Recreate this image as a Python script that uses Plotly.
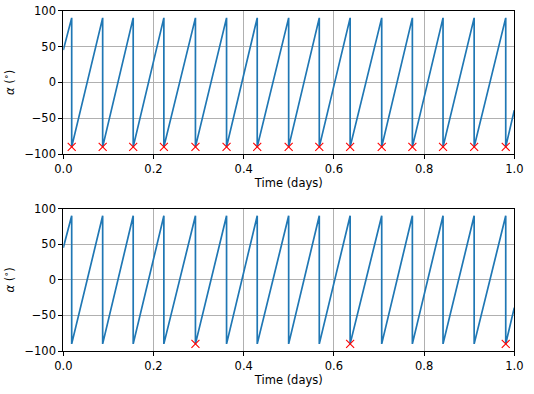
import plotly.graph_objects as go

# Data
drop_times = [0.0186, 0.0873, 0.155, 0.223, 0.293, 0.362, 0.430, 0.4997,
              0.5676, 0.636, 0.706, 0.774, 0.842, 0.911, 0.981]
peak_angle = 90
trough_angle = -90
start_time, start_angle = 0.0, 45
end_time, end_angle = 1.0, -39
marker_idx_top = list(range(15))
marker_idx_bottom = [4, 9, 14]

# Build sawtooth vertices from the data
xs = [start_time]
ys = [start_angle]
for t in drop_times:
    xs += [t, t]
    ys += [peak_angle, trough_angle]
xs.append(end_time)
ys.append(end_angle)

W, H = 534, 394
fig = go.Figure()
line_style = dict(color="#1f77b4", width=1.7)
mk = dict(symbol="x-thin", size=8, line=dict(color="red", width=1.1), color="red")

fig.add_trace(go.Scatter(x=xs, y=ys, mode="lines", line=line_style, xaxis="x", yaxis="y", showlegend=False))
fig.add_trace(go.Scatter(x=[drop_times[i] for i in marker_idx_top], y=[trough_angle]*len(marker_idx_top),
                         mode="markers", marker=mk, xaxis="x", yaxis="y", showlegend=False))
fig.add_trace(go.Scatter(x=xs, y=ys, mode="lines", line=line_style, xaxis="x2", yaxis="y2", showlegend=False))
fig.add_trace(go.Scatter(x=[drop_times[i] for i in marker_idx_bottom], y=[trough_angle]*len(marker_idx_bottom),
                         mode="markers", marker=mk, xaxis="x2", yaxis="y2", showlegend=False))

def px_x(p):
    return p / W

def px_y(p):
    return 1 - p / H

xd = [px_x(63.3), px_x(514.3)]
yd_top = [px_y(154), px_y(10.7)]
yd_bot = [px_y(351), px_y(208.7)]

font = dict(family="DejaVu Sans", size=11.5, color="black")
common = dict(showline=True, linecolor="black", linewidth=1, mirror=True,
              ticks="outside", ticklen=4, tickcolor="black", tickwidth=1,
              showgrid=True, gridcolor="#b0b0b0", gridwidth=0.8, zeroline=False,
              tickfont=font, automargin=False, ticklabeloverflow="allow")
xcommon = dict(common, range=[0, 1], tickvals=[0, 0.2, 0.4, 0.6, 0.8, 1.0], tickformat=".1f",
               title=dict(text="Time (days)", font=font, standoff=4))
ycommon = dict(common, range=[-100, 100], tickvals=[-100, -50, 0, 50, 100],
               title=dict(text="<i>α</i> (<sup>∘</sup>)", font=font, standoff=7))

fig.update_layout(
    width=W, height=H, margin=dict(l=0, r=0, t=0, b=0),
    paper_bgcolor="white", plot_bgcolor="white", font=font,
    xaxis=dict(xcommon, domain=xd, anchor="y"),
    yaxis=dict(ycommon, domain=yd_top, anchor="x"),
    xaxis2=dict(xcommon, domain=xd, anchor="y2"),
    yaxis2=dict(ycommon, domain=yd_bot, anchor="x2"),
)
fig.write_html("out.html", config={"displayModeBar": False},
               post_script="document.body.style.margin='0';document.body.style.padding='0';")
